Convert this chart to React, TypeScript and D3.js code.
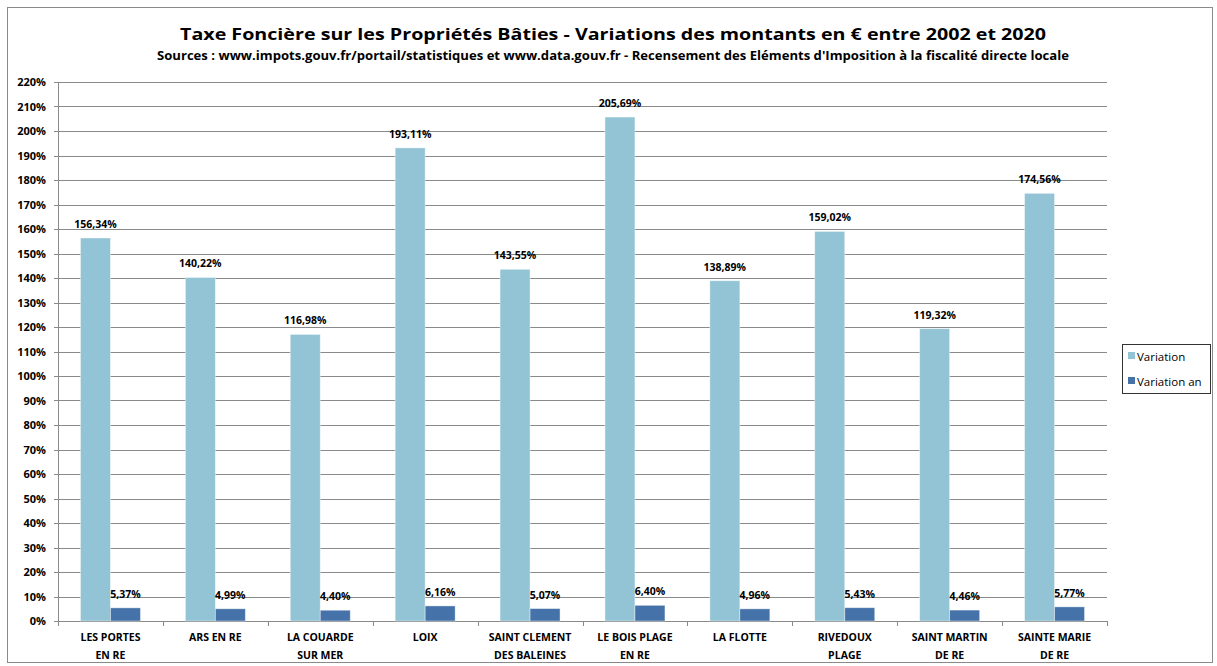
import React from 'react';
import * as d3 from 'd3';

const categories = [
  ['LES PORTES', 'EN RE'],
  ['ARS EN RE'],
  ['LA COUARDE', 'SUR MER'],
  ['LOIX'],
  ['SAINT CLEMENT', 'DES BALEINES'],
  ['LE BOIS PLAGE', 'EN RE'],
  ['LA FLOTTE'],
  ['RIVEDOUX', 'PLAGE'],
  ['SAINT MARTIN', 'DE RE'],
  ['SAINTE MARIE', 'DE RE'],
];
const variation = [156.34, 140.22, 116.98, 193.11, 143.55, 205.69, 138.89, 159.02, 119.32, 174.56];
const variationAn = [5.37, 4.99, 4.4, 6.16, 5.07, 6.4, 4.96, 5.43, 4.46, 5.77];
const seriesNames = ['Variation', 'Variation an'];
const yTicks = d3.range(0, 221, 10);

const W = 1217;
const H = 666;
const left = 58;
const right = 1107;
const top = 82;
const bottom = 621;
const colors = ['#93c4d5', '#4573a9'];
const font = '"Open Sans", sans-serif';

const fmt = (v: number) => v.toFixed(2).replace('.', ',') + '%';

export default function App() {
  const x = d3.scaleBand<number>().domain(d3.range(categories.length)).range([left, right]);
  const y = d3.scaleLinear().domain([0, 220]).range([bottom, top]);
  const barW = 30;
  const series = [variation, variationAn];

  return (
    <svg width={W} height={H} style={{ position: 'absolute', left: 0, top: 0 }} fontFamily={font}>
      <rect x={0} y={0} width={W} height={H} fill="#fff" />
      <rect x={7.5} y={7.5} width={1205} height={655} fill="#fff" stroke="#8a8a8a" />
      <text x={613} y={40} textAnchor="middle" fontSize={16.5} fontWeight="bold" textLength={866} lengthAdjust="spacingAndGlyphs">
        Taxe Foncière sur les Propriétés Bâties - Variations des montants en € entre 2002 et 2020
      </text>
      <text x={613} y={60} textAnchor="middle" fontSize={11.5} fontWeight="bold" textLength={912} lengthAdjust="spacingAndGlyphs">
        Sources : www.impots.gouv.fr/portail/statistiques et www.data.gouv.fr - Recensement des Eléments d'Imposition à la fiscalité directe locale
      </text>

      {yTicks.map((t) => (
        <g key={t}>
          <line x1={left - 4} x2={right} y1={Math.round(y(t)) + 0.5} y2={Math.round(y(t)) + 0.5} stroke="#8a8a8a" />
          <text x={46} y={y(t) + 4} textAnchor="end" fontSize={11} fontWeight="bold">{t}%</text>
        </g>
      ))}
      <line x1={left + 0.5} x2={left + 0.5} y1={top} y2={bottom} stroke="#8a8a8a" />
      {d3.range(categories.length + 1).map((i) => {
        const xx = Math.round(left + i * x.bandwidth()) + 0.5;
        return <line key={i} x1={xx} x2={xx} y1={bottom} y2={bottom + 5} stroke="#8a8a8a" />;
      })}

      {categories.map((c, i) => {
        const cx = (x(i) as number) + x.bandwidth() / 2;
        return (
          <g key={i}>
            {series.map((s, k) => {
              const bx = cx - barW + k * barW;
              return (
                <g key={k}>
                  <rect x={bx} y={y(s[i])} width={barW} height={bottom - y(s[i])} fill={colors[k]} stroke="#ffffff" strokeOpacity={0.5} strokeWidth={0.8} />
                  <text x={bx + barW / 2} y={y(s[i]) - 10} textAnchor="middle" fontSize={10.5} fontWeight="bold">{fmt(s[i])}</text>
                </g>
              );
            })}
            {c.map((line, j) => (
              <text key={j} x={cx} y={641 + j * 18} textAnchor="middle" fontSize={10.5} fontWeight="bold">{line}</text>
            ))}
          </g>
        );
      })}

      <rect x={1122.5} y={344.5} width={88} height={49} fill="#fff" stroke="#333" />
      {seriesNames.map((n, k) => (
        <g key={n}>
          <rect x={1128} y={352 + k * 25} width={7} height={7} fill={colors[k]} />
          <text x={1137} y={360.5 + k * 25} fontSize={11.5}>{n}</text>
        </g>
      ))}
    </svg>
  );
}
